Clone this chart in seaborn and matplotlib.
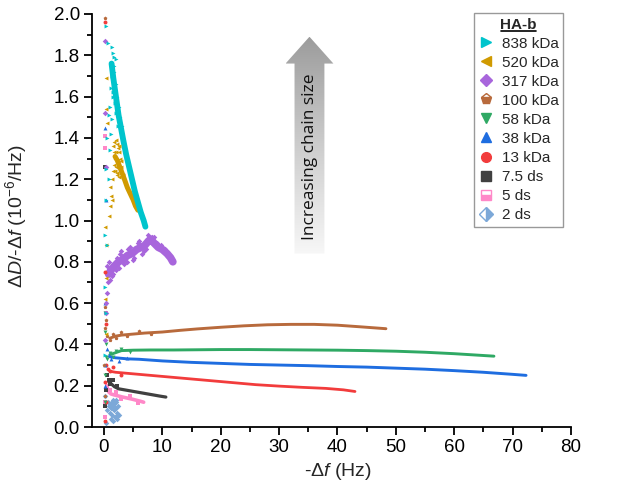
import numpy as np
import pandas as pd
import matplotlib
matplotlib.use('Agg')
import matplotlib.pyplot as plt
import seaborn as sns
from matplotlib.lines import Line2D
from matplotlib.patches import Polygon
from matplotlib.colors import LinearSegmentedColormap
from matplotlib.ticker import MultipleLocator

# ---------------- data ----------------
labels = ['838 kDa', '520 kDa', '317 kDa', '100 kDa', '58 kDa', '38 kDa', '13 kDa', '7.5 ds', '5 ds', '2 ds']
colors = ['#00C4CC', '#D09A00', '#A866DC', '#B86A3C', '#2FA964', '#1E6DE0', '#F23C3C', '#404040', '#FF88C8', '#7CA8D8']
markers = ['>', '<', 'D', 'p', 'v', '^', 'o', 's', 's', 'D']

# main trend of each series (-df in Hz, dD/-df in 1e-6/Hz)
x838 = [1.3, 1.6, 1.9, 2.2, 2.5, 2.9, 3.3, 3.8, 4.3, 4.8, 5.3, 5.8, 6.3, 6.8, 7.1]
y838 = [1.76, 1.69, 1.63, 1.57, 1.51, 1.45, 1.39, 1.32, 1.26, 1.20, 1.14, 1.09, 1.04, 1.00, 0.97]
x520 = [1.9, 2.3, 2.7, 3.1, 3.5, 4.0, 4.5, 5.0, 5.4, 5.8]
y520 = [1.31, 1.29, 1.26, 1.23, 1.20, 1.16, 1.13, 1.10, 1.07, 1.05]
x317 = [0.8, 1.2, 1.8, 2.5, 3.2, 4.0, 4.8, 5.6, 6.4, 7.0, 7.6, 8.0, 8.6, 9.3, 10.0, 10.8, 11.4, 11.8]
y317 = [0.74, 0.76, 0.78, 0.80, 0.81, 0.83, 0.84, 0.86, 0.87, 0.88, 0.90, 0.91, 0.89, 0.87, 0.86, 0.84, 0.82, 0.80]
x100 = [1, 2, 3, 5, 7, 10, 13, 16, 20, 24, 28, 32, 36, 40, 44, 48.3]
y100 = [0.43, 0.44, 0.445, 0.45, 0.455, 0.46, 0.468, 0.475, 0.483, 0.49, 0.495, 0.497, 0.497, 0.493, 0.485, 0.476]
x58 = [1, 2, 3, 5, 8, 12, 16, 20, 25, 30, 35, 40, 45, 50, 55, 60, 64, 66.8]
y58 = [0.35, 0.36, 0.37, 0.372, 0.373, 0.373, 0.374, 0.375, 0.375, 0.374, 0.373, 0.372, 0.37, 0.367, 0.362, 0.355, 0.348, 0.343]
x38 = [1, 2, 4, 6, 10, 15, 20, 25, 30, 35, 40, 45, 50, 55, 60, 65, 70, 72.3]
y38 = [0.34, 0.335, 0.33, 0.328, 0.32, 0.313, 0.308, 0.303, 0.30, 0.297, 0.293, 0.29, 0.285, 0.28, 0.273, 0.265, 0.255, 0.25]
x13 = [1, 2, 4, 6, 8, 10, 14, 18, 22, 26, 30, 34, 38, 41, 43]
y13 = [0.27, 0.265, 0.26, 0.255, 0.25, 0.245, 0.235, 0.225, 0.215, 0.205, 0.198, 0.192, 0.187, 0.18, 0.172]
x75 = [0.8, 1.2, 1.8, 2.5, 3.5, 4.5, 5.5, 6.5, 7.5, 8.5, 9.5, 10.6]
y75 = [0.22, 0.21, 0.195, 0.185, 0.18, 0.175, 0.17, 0.165, 0.16, 0.155, 0.15, 0.145]
x5 = [0.8, 1.2, 1.8, 2.5, 3.2, 4.0, 4.8, 5.5, 6.2, 6.8]
y5 = [0.17, 0.16, 0.155, 0.15, 0.145, 0.14, 0.135, 0.13, 0.125, 0.12]
x2 = []
y2 = []

# scattered / noisy points
sx838 = [0.3, 0.7, 1.3, 1.5, 1.7, 1.2, 1.4, 1.8, 2.0, 1.1, 1.3, 1.6, 0.9, 1.2, 1.0, 2.3, 2.6, 0.5, 0.4, 0.8, 0.3, 0.2, 0.6, 0.1, 0.4, 0.2, 1.6, 1.9, 2.1, 2.4, 1.5, 1.8, 2.8, 3.1, 2.0]
sy838 = [1.94, 1.86, 1.84, 1.81, 1.79, 1.64, 1.70, 1.72, 1.66, 1.55, 1.49, 1.60, 1.51, 1.42, 1.34, 1.60, 1.55, 1.40, 1.25, 1.20, 1.10, 0.93, 0.88, 0.68, 0.55, 0.35, 1.68, 1.57, 1.52, 1.46, 1.62, 1.75, 1.50, 1.46, 1.78]
sx520 = [1.6, 1.8, 2.0, 2.2, 2.4, 1.9, 2.1, 2.6, 2.8, 1.7, 1.5, 1.3, 1.1, 1.2, 1.0, 1.4, 0.9, 2.3, 2.7, 2.0, 2.5, 3.0, 0.4, 0.3, 0.5, 0.2, 0.4, 0.3, 0.1, 0.3, 2.2, 2.9, 3.2, 1.8, 2.4, 2.6, 1.9]
sy520 = [1.36, 1.38, 1.39, 1.37, 1.35, 1.30, 1.26, 1.33, 1.30, 1.27, 1.24, 1.20, 1.16, 1.12, 1.07, 1.10, 1.02, 1.22, 1.24, 1.33, 1.36, 1.29, 1.69, 1.54, 1.47, 0.97, 0.88, 0.72, 0.62, 0.45, 1.23, 1.26, 1.22, 1.33, 1.28, 1.21, 1.24]
sx317 = [0.3, 0.5, 0.7, 0.4, 0.6, 1.0, 1.5, 2.0, 2.8, 3.5, 4.5, 5.2, 6.0, 6.8, 7.5, 8.2, 0.9, 1.3, 2.2, 3.0, 0.2, 0.1, 0.3, 0.2, 4.0, 5.8, 9.0, 10.5, 6.5, 7.2, 8.6, 2.6, 4.2, 5.0, 9.8]
sy317 = [0.60, 0.65, 0.70, 0.55, 0.78, 0.71, 0.74, 0.76, 0.84, 0.79, 0.87, 0.82, 0.90, 0.85, 0.93, 0.92, 0.80, 0.73, 0.82, 0.85, 1.87, 1.52, 1.26, 0.42, 0.80, 0.89, 0.89, 0.86, 0.84, 0.86, 0.92, 0.77, 0.86, 0.81, 0.88]
sx100 = [0.2, 0.1, 0.3, 0.2, 0.5, 1.0, 1.5, 2.0, 3, 4, 0.0, 0.2, 6, 8]
sy100 = [1.98, 0.58, 0.52, 0.48, 0.44, 0.42, 0.45, 0.43, 0.46, 0.44, 0.30, 0.15, 0.465, 0.45]
sx58 = [0.2, 0.1, 0.3, 0.4, 0.6, 1.0, 1.5, 2.0, 0.2, 0.1, 3.0, 4.5]
sy58 = [0.55, 0.46, 0.40, 0.34, 0.33, 0.36, 0.34, 0.37, 0.25, 0.12, 0.38, 0.365]
sx38 = [0.1, 0.3, 0.2, 0.5, 0.8, 1.2, 0.2, 0.1, 2.5, 4.0]
sy38 = [1.45, 1.10, 0.60, 0.38, 0.35, 0.33, 0.30, 0.20, 0.32, 0.335]
sx13 = [0.2, 0.1, 0.3, 0.4, 0.7, 1.0, 0.2, 0.3, 0.1, 1.5, 3.0]
sy13 = [1.96, 0.75, 0.50, 0.30, 0.28, 0.27, 0.22, 0.12, 0.03, 0.29, 0.25]
sx75 = [0.2, 0.5, 0.8, 1.0, 0.3, 0.2, 1.5, 2.2]
sy75 = [1.26, 0.25, 0.23, 0.21, 0.18, 0.10, 0.23, 0.20]
sx5 = [0.1, 0.2, 0.3, 0.6, 1.0, 0.2, 0.1, 2.0, 3.0, 4.5, 5.8]
sy5 = [1.41, 1.35, 0.55, 0.20, 0.18, 0.12, 0.05, 0.17, 0.135, 0.15, 0.115]
sx2 = [0.5, 0.7, 0.9, 1.0, 1.1, 1.2, 1.3, 1.4, 1.5, 1.6, 1.7, 1.8, 1.9, 2.0, 2.1, 2.2, 2.3, 2.4, 2.5, 1.2, 1.6, 2.0, 0.3, 0.2, 1.8, 2.2, 1.4]
sy2 = [0.08, 0.12, 0.10, 0.07, 0.11, 0.09, 0.12, 0.06, 0.10, 0.13, 0.08, 0.11, 0.05, 0.09, 0.12, 0.07, 0.04, 0.10, 0.06, 0.04, 0.03, 0.13, 0.02, 0.15, 0.085, 0.055, 0.095]

xticks = [0, 10, 20, 30, 40, 50, 60, 70, 80]
yticks = [0.0, 0.2, 0.4, 0.6, 0.8, 1.0, 1.2, 1.4, 1.6, 1.8, 2.0]

trend_x = [x838, x520, x317, x100, x58, x38, x13, x75, x5, x2]
trend_y = [y838, y520, y317, y100, y58, y38, y13, y75, y5, y2]
scat_x = [sx838, sx520, sx317, sx100, sx58, sx38, sx13, sx75, sx5, sx2]
scat_y = [sy838, sy520, sy317, sy100, sy58, sy38, sy13, sy75, sy5, sy2]

trend = pd.DataFrame([(lab, x, y) for lab, xs, ys in zip(labels, trend_x, trend_y) for x, y in zip(xs, ys)],
                     columns=['series', 'x', 'y'])
scat = pd.DataFrame([(lab, x, y) for lab, xs, ys in zip(labels, scat_x, scat_y) for x, y in zip(xs, ys)],
                    columns=['series', 'x', 'y'])

# ---------------- style ----------------
sns.set_theme(style='ticks')
plt.rcParams['font.family'] = ['Liberation Sans', 'DejaVu Sans']
plt.rcParams['mathtext.fontset'] = 'custom'
plt.rcParams['mathtext.rm'] = 'Liberation Sans'
plt.rcParams['mathtext.it'] = 'Liberation Sans:italic'
plt.rcParams['mathtext.bf'] = 'Liberation Sans:bold'

fig = plt.figure(figsize=(6.18, 4.97), dpi=100)
ax = fig.add_axes([92.3 / 618, 1 - 427 / 497, (571 - 92.3) / 618, (427 - 14) / 497])

linewidths = {'838 kDa': 4.2, '520 kDa': 3.6, '317 kDa': 5.5, '100 kDa': 2.1, '58 kDa': 2.1,
              '38 kDa': 2.1, '13 kDa': 2.0, '7.5 ds': 2.3, '5 ds': 2.6, '2 ds': 0}

# gradient arrow
ax_x0, ax_x1 = -2, 80
arrow_cx = 35.2
shaft_hw, head_hw = 2.56, 4.1
tip_y, head_y, bot_y = 1.89, 1.76, 0.84
poly = Polygon([(arrow_cx - shaft_hw, bot_y), (arrow_cx + shaft_hw, bot_y), (arrow_cx + shaft_hw, head_y),
                (arrow_cx + head_hw, head_y), (arrow_cx, tip_y), (arrow_cx - head_hw, head_y),
                (arrow_cx - shaft_hw, head_y)], closed=True, facecolor='none', edgecolor='none',
               transform=ax.transData)
ax.add_patch(poly)
grad = np.linspace(0, 1, 256).reshape(-1, 1)
cmap = LinearSegmentedColormap.from_list('g', ['#f7f7f7', '#cdcdcd', '#9c9c9c'])
im = ax.imshow(grad, extent=[arrow_cx - head_hw, arrow_cx + head_hw, bot_y, tip_y], origin='lower',
               cmap=cmap, aspect='auto', zorder=0.5)
im.set_clip_path(poly)
ax.text(arrow_cx + 0.1, (bot_y + head_y) / 2 + 0.01, 'Increasing chain size', rotation=90,
        ha='center', va='center', fontsize=12.5, family=['Open Sans', 'DejaVu Sans'], color='#111111', zorder=1)

# data, drawn from smallest to largest so large chains sit on top
for lab, col, mk in list(zip(labels, colors, markers))[::-1]:
    sub = trend[trend.series == lab]
    if len(sub):
        sns.lineplot(data=sub, x='x', y='y', color=col, lw=linewidths[lab], sort=False,
                     estimator=None, ax=ax, zorder=2, legend=False)
    ssub = scat[scat.series == lab]
    sns.scatterplot(data=ssub, x='x', y='y', color=col, marker=mk, s=8, linewidth=0,
                    ax=ax, zorder=3, legend=False)

ax.set_xlim(ax_x0, ax_x1)
ax.set_ylim(0, 2.0)
ax.set_xticks(xticks)
ax.set_yticks(yticks)
ax.set_yticklabels([f'{v:.1f}' for v in yticks])
ax.xaxis.set_minor_locator(MultipleLocator(5))
ax.yaxis.set_minor_locator(MultipleLocator(0.1))
ax.tick_params(which='major', direction='out', length=6, width=1.3, labelsize=13.5, color='black',
               labelcolor='black', pad=3)
ax.tick_params(which='minor', direction='out', length=3.5, width=1.3, color='black')
for s in ['top', 'right']:
    ax.spines[s].set_visible(False)
for s in ['left', 'bottom']:
    ax.spines[s].set_linewidth(1.3)
    ax.spines[s].set_color('black')

ax.set_xlabel(r'-$\Delta f$ (Hz)', fontsize=14)
ax.set_ylabel(r'$\Delta D$/-$\Delta f$ (10$^{-6}$/Hz)', fontsize=14)
ax.xaxis.set_label_coords(0.513, -0.083)
ax.yaxis.set_label_coords(-0.132, 0.51)

# legend
handles = []
for lab, col, mk in zip(labels, colors, markers):
    kw = dict(marker=mk, ls='', color=col, markersize=7, markeredgecolor=col, markeredgewidth=1)
    if lab == '100 kDa':
        kw.update(fillstyle='bottom', markerfacecoloralt='white', markersize=8)
    elif lab == '5 ds':
        kw.update(fillstyle='bottom', markerfacecoloralt='white')
    elif lab == '2 ds':
        kw.update(fillstyle='right', markerfacecoloralt='white')
    elif mk == 'D':
        kw.update(markersize=6.5)
    handles.append(Line2D([], [], **kw))
leg = ax.legend(handles, labels, title='HA-b', loc='upper left',
                bbox_to_anchor=(474 / 618, 1 - 13 / 497), bbox_transform=fig.transFigure,
                fontsize=11, title_fontsize=11, frameon=True, fancybox=False, framealpha=1,
                edgecolor='#999999', handlelength=1.0, handletextpad=0.5, labelspacing=0.33,
                borderpad=0.3, borderaxespad=0)
leg.get_title().set_fontweight('bold')
leg.get_frame().set_linewidth(1.0)

fig.canvas.draw()
r = fig.canvas.get_renderer()
bb = leg.get_title().get_window_extent(r)
inv = fig.transFigure.inverted()
(p0x, p0y) = inv.transform((bb.x0 + 1, bb.y0 + 1))
(p1x, p1y) = inv.transform((bb.x1 - 1, bb.y0 + 1))
fig.add_artist(Line2D([p0x, p1x], [p0y, p1y], transform=fig.transFigure, color='black', lw=1.2))

fig.savefig('out.png', dpi=100)
